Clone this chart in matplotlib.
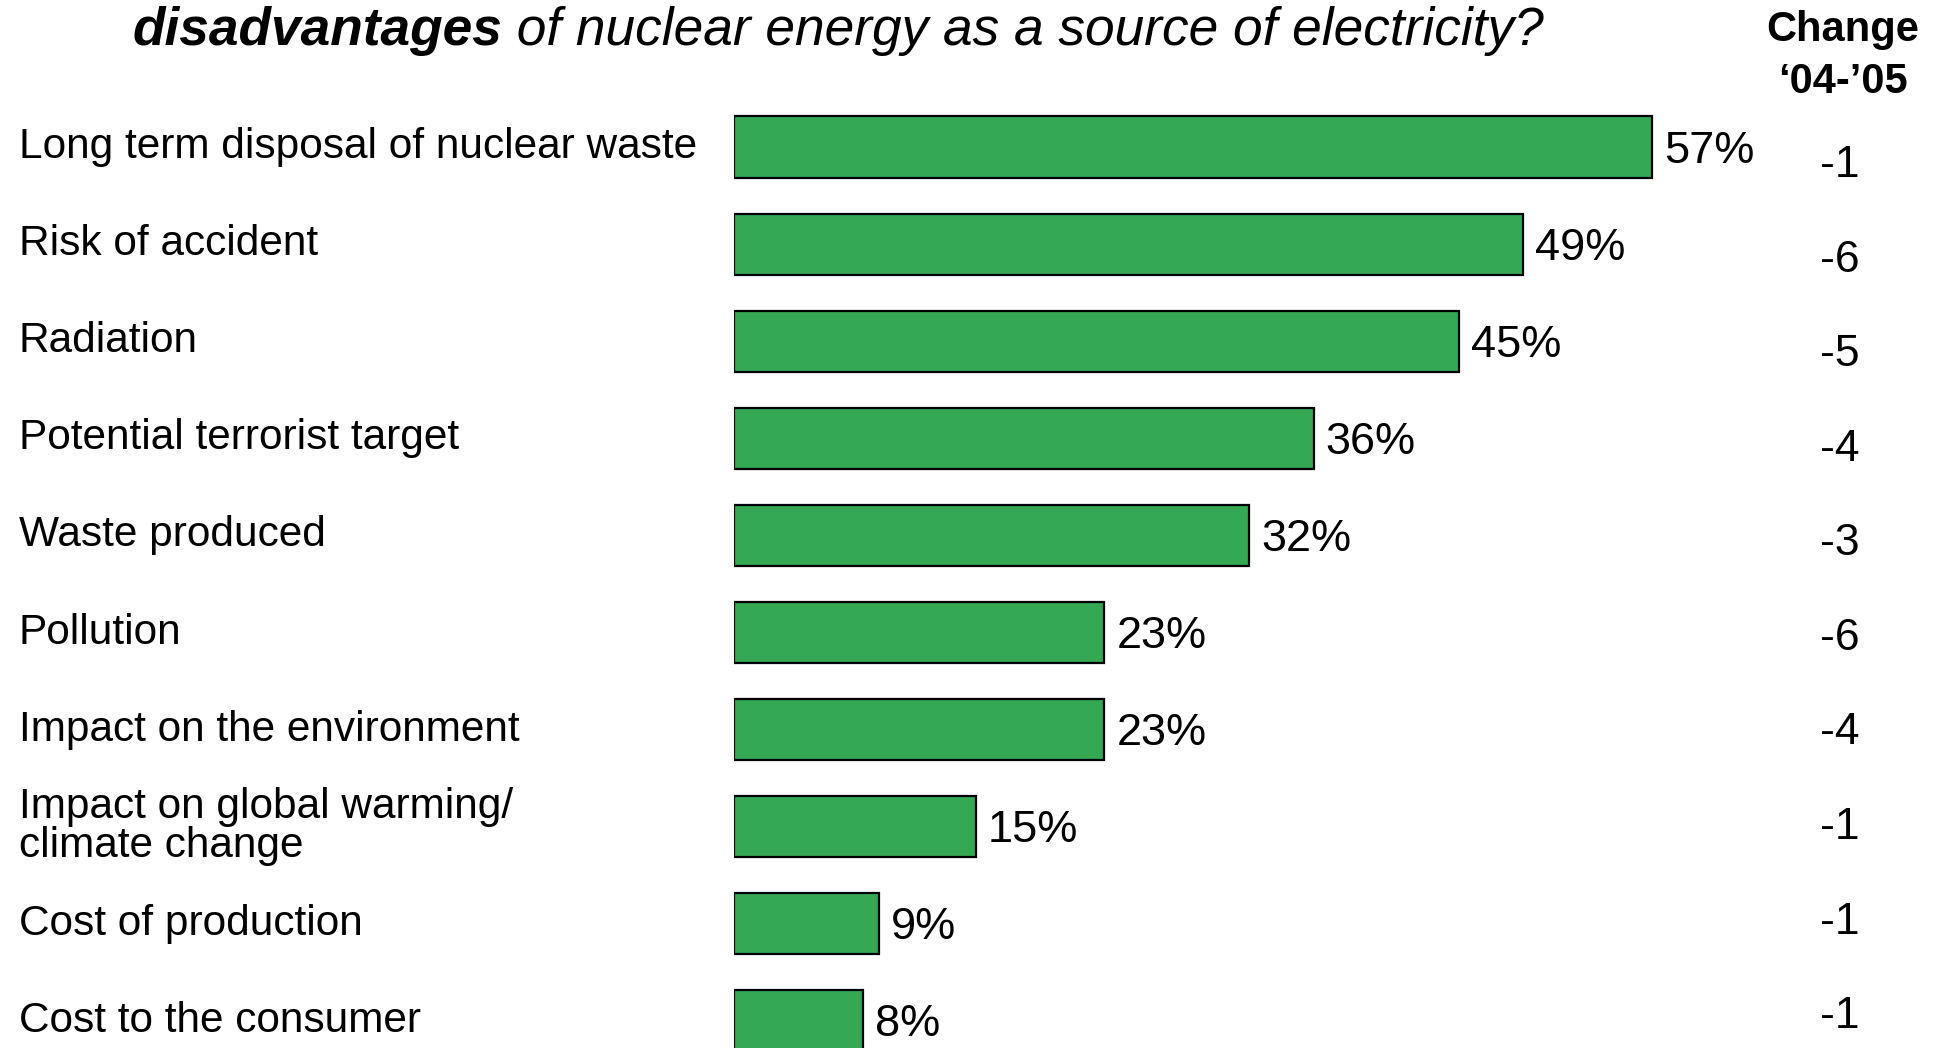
import matplotlib.pyplot as plt
import matplotlib.transforms as mtransforms

# dados do gráfico
categorias = [
    "Long term disposal of nuclear waste",
    "Risk of accident",
    "Radiation",
    "Potential terrorist target",
    "Waste produced",
    "Pollution",
    "Impact on the environment",
    "Impact on global warming/\nclimate change",
    "Cost of production",
    "Cost to the consumer",
]
valores = [57, 49, 45, 36, 32, 23, 23, 15, 9, 8]
mudanca = ["-1", "-6", "-5", "-4", "-3", "-6", "-4", "-1", "-1", "-1"]

plt.rcParams['font.family'] = ['Liberation Sans', 'DejaVu Sans']

W, H = 1940, 1048
fig = plt.figure(figsize=(W / 100, H / 100), dpi=100)
fig.patch.set_facecolor('white')

# eixo começa onde as barras começam (x=734 px)
ax = fig.add_axes([734 / W, 0, 1 - 734 / W, 1])
ax.set_xlim(0, (W - 734) / 16.1)
ax.set_ylim(9.279, -1.514)
ax.axis('off')

pos = list(range(len(categorias)))
ax.barh(pos, valores, height=0.63, color='#34A853', edgecolor='black', linewidth=1.6)

tr_lab = mtransforms.blended_transform_factory(fig.transFigure, ax.transData)

for i, (cat, v, m) in enumerate(zip(categorias, valores, mudanca)):
    ax.text(19 / W, i, cat, transform=tr_lab, ha='left', va='center',
            fontsize=30.5, linespacing=0.95)
    ax.annotate(f"{v}%", xy=(v, i), xytext=(12, -4), textcoords='offset pixels',
                ha='left', va='center', fontsize=32.5)
    # a coluna de mudança tem um espaçamento um pouco menor que as barras
    ax.text(1840 / W, 0.19 + 0.974 * i, m, transform=tr_lab,
            ha='center', va='center', fontsize=32)

# cabeçalho da coluna de mudança
fig.text(1843 / W, 1 - 30 / H, "Change", ha='center', va='center',
         fontsize=30, fontweight='bold')
fig.text(1843 / W, 1 - 82 / H, "\u201804-\u201905", ha='center', va='center',
         fontsize=30, fontweight='bold')

# título (segunda linha visível)
t1 = fig.text(132 / W, 1 - 45 / H, "disadvantages", ha='left', va='baseline',
              fontsize=38.3, fontweight='bold', style='italic')
fig.canvas.draw()
bb = t1.get_window_extent()
fig.text(bb.x1 / W, 1 - 45 / H, " of nuclear energy as a source of electricity?",
         ha='left', va='baseline', fontsize=38.3, style='italic')

fig.savefig('out.png', dpi=100)
